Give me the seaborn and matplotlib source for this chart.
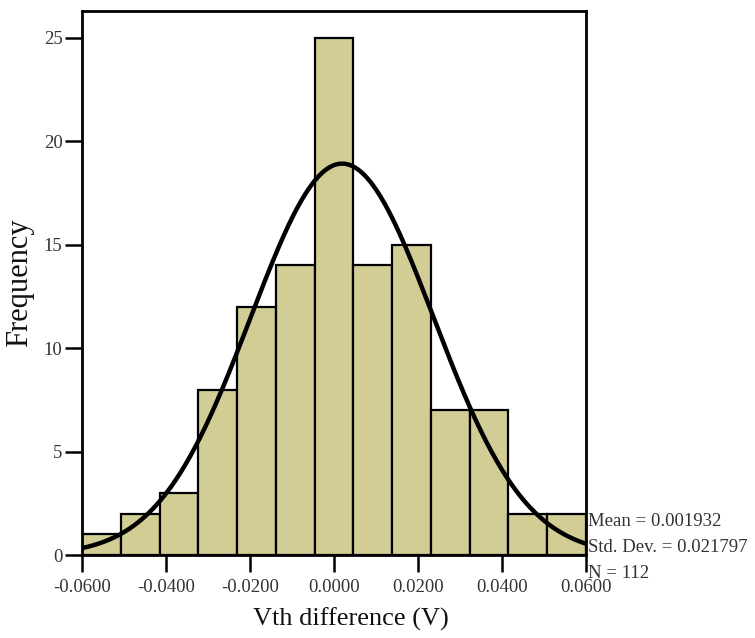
import numpy as np
import pandas as pd
import matplotlib
matplotlib.use("Agg")
import matplotlib.pyplot as plt
import seaborn as sns

# Data
bin_edges = [-0.06 + i * (0.12 / 13) for i in range(14)]
counts = [1, 2, 3, 8, 12, 14, 25, 14, 15, 7, 7, 2, 2]
mean_val = 0.001932
std_val = 0.021797
n_val = 112
xticks = [-0.06, -0.04, -0.02, 0.0, 0.02, 0.04, 0.06]
yticks = [0, 5, 10, 15, 20, 25]

sns.set_style("ticks")
plt.rcParams['font.family'] = ['Liberation Serif', 'DejaVu Serif']

centers = [(bin_edges[i] + bin_edges[i + 1]) / 2 for i in range(len(counts))]
df = pd.DataFrame({"x": centers, "w": counts})

fig = plt.figure(figsize=(7.55, 6.38), dpi=100)
ax = fig.add_axes([82 / 755, 1 - 555 / 638, (586 - 82) / 755, (555 - 11) / 638])

sns.histplot(data=df, x="x", weights="w", bins=bin_edges, color="#D1CD95",
             edgecolor="black", linewidth=1.6, alpha=1, ax=ax)

bw = bin_edges[1] - bin_edges[0]
xs = np.linspace(-0.06, 0.06, 400)
ys = n_val * bw * np.exp(-0.5 * ((xs - mean_val) / std_val) ** 2) / (std_val * np.sqrt(2 * np.pi))
sns.lineplot(x=xs, y=ys, color="black", linewidth=3.2, ax=ax)

ax.set_xlim(-0.06, 0.06)
ax.set_ylim(0, 26.3)
ax.set_xticks(xticks)
ax.set_xticklabels([f"{v:.4f}" for v in xticks])
ax.set_yticks(yticks)
ax.set_yticklabels([str(v) for v in yticks])

for s in ax.spines.values():
    s.set_visible(True)
    s.set_color("black")
    s.set_linewidth(2.0)

ax.tick_params(axis="both", direction="out", length=12, width=1.8, color="black",
               labelsize=13.5, labelcolor="#333333")
ax.tick_params(axis="x", pad=5)
ax.tick_params(axis="y", pad=2)

ax.set_xlabel("Vth difference (V)", fontsize=19, color="#111111")
ax.set_ylabel("Frequency", fontsize=22, color="#111111")
ax.xaxis.set_label_coords(0.534, -0.097)
ax.yaxis.set_label_coords(-0.095, 0.5)

stats = [f"Mean = {mean_val:.6f}", f"Std. Dev. = {std_val:.6f}", f"N = {n_val}"]
ypix = [522, 547, 573]
for t, yp in zip(stats, ypix):
    fig.text(588 / 755, 1 - yp / 638, t, fontsize=13.5, color="#333333",
             ha="left", va="center")

fig.savefig("out.png", dpi=100)
